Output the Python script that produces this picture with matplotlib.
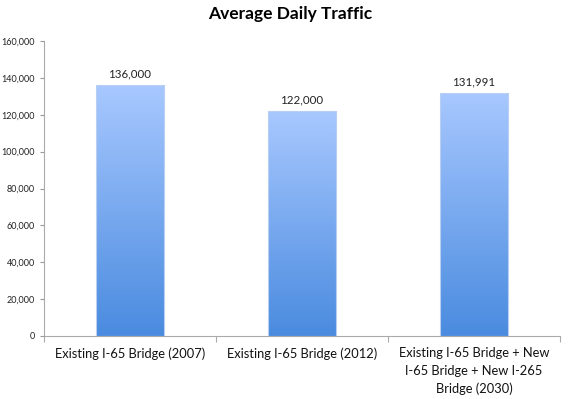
import numpy as np
import matplotlib.pyplot as plt
from matplotlib.colors import LinearSegmentedColormap
from matplotlib.ticker import FuncFormatter

categories = ['Existing I-65 Bridge (2007)',
              'Existing I-65 Bridge (2012)',
              'Existing I-65 Bridge + New\nI-65 Bridge + New I-265\nBridge (2030)']
traffic = [136000, 122000, 131991]
value_labels = ['136,000', '122,000', '131,991']

plt.rcParams['font.family'] = ['Lato', 'DejaVu Sans']

fig = plt.figure(figsize=(5.69, 3.99), dpi=100)
ax = fig.add_axes([0.0773, 0.158, 0.9067, 0.739])

x = np.arange(len(categories))
bars = ax.bar(x, traffic, width=0.4, color='none', edgecolor='#b8cff2', linewidth=0.8, zorder=3)

# vertical gradient, light at top, darker at bottom
cmap = LinearSegmentedColormap.from_list('grad', ['#4a8bdf', '#a8c8ff'])
grad = np.linspace(0, 1, 256).reshape(-1, 1)
for b in bars:
    x0, w, h = b.get_x(), b.get_width(), b.get_height()
    im = ax.imshow(grad, cmap=cmap, origin='lower', aspect='auto',
                   extent=[x0, x0 + w, 0, h], zorder=2)
    im.set_clip_path(b)

for xi, v, lab in zip(x, traffic, value_labels):
    ax.text(xi, v + 3000, lab, ha='center', va='bottom', fontsize=8.3, color='#222222')

ax.set_xlim(-0.5, 2.5)
ax.set_ylim(0, 160000)
ax.set_yticks(np.arange(0, 160001, 20000))
ax.yaxis.set_major_formatter(FuncFormatter(lambda v, p: f'{int(v):,}'))
ax.tick_params(axis='y', labelsize=6.5, colors='#999999', labelcolor='#222222', length=3, width=0.8)

ax.set_xticks(x)
ax.set_xticklabels(categories, fontsize=9.3, color='#111111', linespacing=1.55)
ax.tick_params(axis='x', length=0, pad=8)
ax.set_xticks([-0.5, 0.5, 1.5, 2.5], minor=True)
ax.tick_params(axis='x', which='minor', length=4, colors='#aaaaaa', width=0.8)

for s in ['top', 'right']:
    ax.spines[s].set_visible(False)
for s in ['left', 'bottom']:
    ax.spines[s].set_color('#aaaaaa')
    ax.spines[s].set_linewidth(0.8)

fig.suptitle('Average Daily Traffic', x=0.51, y=0.985, fontsize=12.5, fontweight='bold')

fig.savefig('out.png', dpi=100)
